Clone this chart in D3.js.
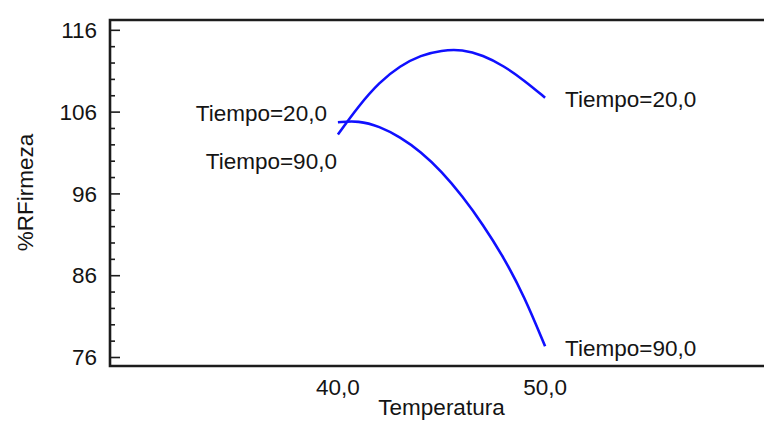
<!DOCTYPE html>
<html>
<head>
<meta charset="utf-8">
<script src="https://cdn.jsdelivr.net/npm/d3@7"></script>
<style>
  html, body { margin: 0; padding: 0; background: #ffffff; }
  svg text { font-family: "Liberation Sans", Arial, Helvetica, sans-serif; fill: #141414; }
</style>
</head>
<body>
<svg id="chart" width="764" height="421"></svg>
<script>
// ---- Data ----
const temperatura = [40, 41, 42, 43, 44, 45, 46, 47, 48, 49, 50];
const firmezaTiempo20 = [103.2, 106.7, 109.6, 111.6, 112.9, 113.5, 113.6, 112.9, 111.6, 109.8, 107.7];
const firmezaTiempo90 = [104.7, 104.9, 104.2, 102.9, 101.1, 98.7, 95.7, 92.2, 88.2, 83.4, 77.3];
const seriesNames = ["Tiempo=20,0", "Tiempo=90,0"];
const yTickValues = [76, 86, 96, 106, 116];
const yTickLabels = ["76", "86", "96", "106", "116"];
const yMinorTicks = [78, 80, 82, 84, 88, 90, 92, 94, 98, 100, 102, 104, 108, 110, 112, 114];
const xTickValues = [40, 50];
const xTickLabels = ["40,0", "50,0"];
const xTitle = "Temperatura";
const yTitle = "%RFirmeza";

// ---- Scales ----
const svg = d3.select("#chart");
const x = d3.scaleLinear().domain([29, 61]).range([110, 773]);
const y = d3.scaleLinear().domain([74.9, 117.2]).range([366, 20]);
const FS = 22.5;

// frame (left, top, bottom; right edge falls outside the picture)
svg.append("path")
  .attr("d", `M${x(61)},${y(117.2)} L${x(29)},${y(117.2)} L${x(29)},${y(74.9)} L${x(61)},${y(74.9)}`)
  .attr("fill", "none").attr("stroke", "#1c1c1c").attr("stroke-width", 2.6);

// y axis ticks (inward) via d3 axis
const yAxisMajor = d3.axisRight(y).tickValues(yTickValues).tickSize(10).tickFormat("");
const yAxisMinor = d3.axisRight(y).tickValues(yMinorTicks).tickSize(5).tickFormat("");
const gMaj = svg.append("g").attr("transform", `translate(${x(29)},0)`).call(yAxisMajor);
const gMin = svg.append("g").attr("transform", `translate(${x(29)},0)`).call(yAxisMinor);
[gMaj, gMin].forEach(g => {
  g.select(".domain").remove();
  g.selectAll("line").attr("stroke", "#1c1c1c").attr("stroke-width", 1.6);
});

// y tick labels
svg.append("g").selectAll("text").data(yTickValues).join("text")
  .attr("x", 97).attr("y", d => y(d)).attr("dy", "0.36em")
  .attr("text-anchor", "end").attr("font-size", FS)
  .text((d, i) => yTickLabels[i]);

// x tick labels
svg.append("g").selectAll("text").data(xTickValues).join("text")
  .attr("x", d => x(d)).attr("y", 395)
  .attr("text-anchor", "middle").attr("font-size", FS)
  .text((d, i) => xTickLabels[i]);

// axis titles
svg.append("text").attr("x", (x(40) + x(50)) / 2).attr("y", 415)
  .attr("text-anchor", "middle").attr("font-size", FS).text(xTitle);
svg.append("text")
  .attr("transform", `translate(33,${y(96) - 1}) rotate(-90)`)
  .attr("text-anchor", "middle").attr("font-size", FS).text(yTitle);

// curves
const line = d3.line().x(d => x(d[0])).y(d => y(d[1])).curve(d3.curveBasis);
const series = [firmezaTiempo20, firmezaTiempo90];
series.forEach(vals => {
  svg.append("path")
    .datum(temperatura.map((t, i) => [t, vals[i]]))
    .attr("d", line)
    .attr("fill", "none").attr("stroke", "#1010ff").attr("stroke-width", 2.6);
});

// curve labels
const t0 = temperatura[0], t1 = temperatura[temperatura.length - 1];
svg.append("text").attr("x", x(t0) - 11).attr("y", y(firmezaTiempo20[0]) - 14)
  .attr("text-anchor", "end").attr("font-size", FS).text(seriesNames[0]);
svg.append("text").attr("x", x(t0) - 1).attr("y", y(firmezaTiempo90[0]) + 47)
  .attr("text-anchor", "end").attr("font-size", FS).text(seriesNames[1]);
svg.append("text").attr("x", x(t1) + 20).attr("y", y(firmezaTiempo20[firmezaTiempo20.length - 1]) + 9)
  .attr("text-anchor", "start").attr("font-size", FS).text(seriesNames[0]);
svg.append("text").attr("x", x(t1) + 20).attr("y", y(firmezaTiempo90[firmezaTiempo90.length - 1]) + 10)
  .attr("text-anchor", "start").attr("font-size", FS).text(seriesNames[1]);
</script>
</body>
</html>
